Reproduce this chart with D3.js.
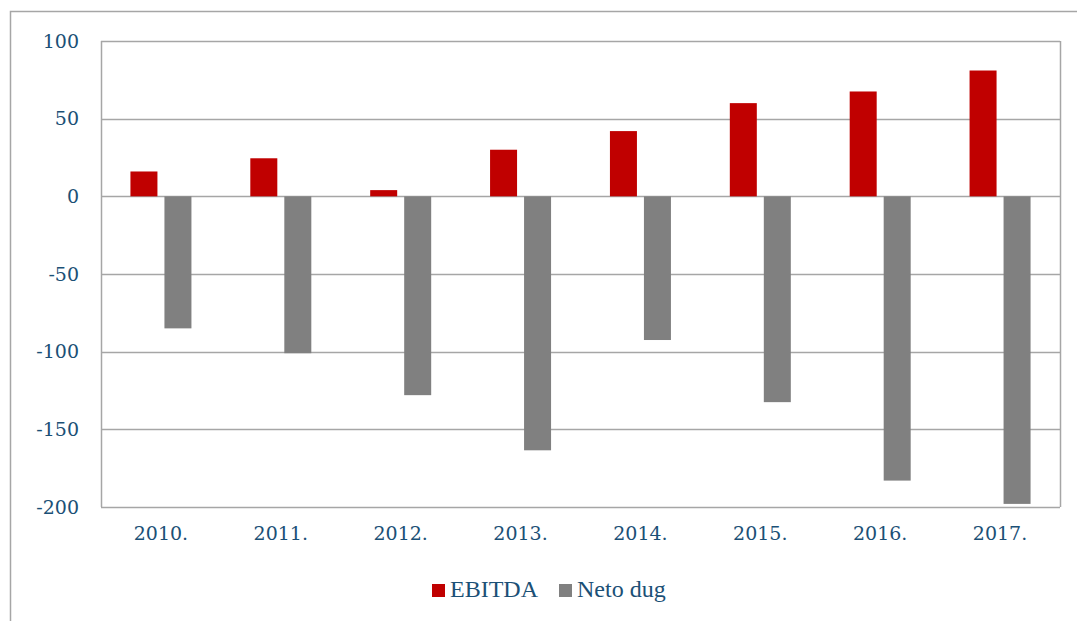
<!DOCTYPE html>
<html>
<head>
<meta charset="utf-8">
<script src="https://cdn.jsdelivr.net/npm/d3@7"></script>
<style>
  body { margin: 0; background: #fff; }
  svg { display: block; font-family: "DejaVu Serif", "Liberation Serif", serif; }
</style>
</head>
<body>
<svg id="chart"></svg>
<script>
var years = ["2010.", "2011.", "2012.", "2013.", "2014.", "2015.", "2016.", "2017."];
var ebitda = [16, 24.5, 4, 30, 42, 60, 67.5, 81];
var netoDug = [-85, -101, -128, -163.5, -92.5, -132.5, -183, -198];
var yTicks = [100, 50, 0, -50, -100, -150, -200];
var seriesNames = ["EBITDA", "Neto dug"];
var seriesColors = ["#c00000", "#808080"];

var width = 1077, height = 621;
var plot = { left: 101, right: 1060, top: 41, bottom: 507 };
var textColor = "#1b5076";
var gridColor = "#a6a6a6";

var svg = d3.select("#chart")
  .attr("width", width)
  .attr("height", height);

// outer chart frame (cut off at right and bottom)
svg.append("path")
  .attr("d", "M10.5," + height + "V11.5H" + width)
  .attr("fill", "none")
  .attr("stroke", gridColor)
  .attr("stroke-width", 1.5);

var x = d3.scaleBand()
  .domain(years)
  .range([plot.left, plot.right]);

var y = d3.scaleLinear()
  .domain([-200, 100])
  .range([plot.bottom, plot.top]);

var barW = 27, gap = 7;

// gridlines
svg.append("g")
  .selectAll("line")
  .data(yTicks)
  .enter()
  .append("line")
  .attr("x1", plot.left)
  .attr("x2", plot.right)
  .attr("y1", function(d) { return Math.round(y(d)) + 0.5; })
  .attr("y2", function(d) { return Math.round(y(d)) + 0.5; })
  .attr("stroke", gridColor)
  .attr("stroke-width", 1.5);

// plot border sides
svg.append("g")
  .selectAll("line")
  .data([plot.left, plot.right])
  .enter()
  .append("line")
  .attr("x1", function(d) { return d + 0.5; })
  .attr("x2", function(d) { return d + 0.5; })
  .attr("y1", plot.top)
  .attr("y2", plot.bottom)
  .attr("stroke", gridColor)
  .attr("stroke-width", 1.5);

var data = years.map(function(yr, i) {
  return { year: yr, values: [ebitda[i], netoDug[i]] };
});

var groups = svg.append("g")
  .selectAll("g")
  .data(data)
  .enter()
  .append("g");

groups.selectAll("rect")
  .data(function(d) { return d.values.map(function(v, k) { return { year: d.year, v: v, k: k }; }); })
  .enter()
  .append("rect")
  .attr("x", function(d) {
    var c = x(d.year) + x.bandwidth() / 2;
    return d.k === 0 ? c - gap / 2 - barW : c + gap / 2;
  })
  .attr("y", function(d) { return Math.min(y(d.v), y(0)); })
  .attr("width", barW)
  .attr("height", function(d) { return Math.abs(y(d.v) - y(0)); })
  .attr("fill", function(d) { return seriesColors[d.k]; });

// y axis labels (plain hyphen for negatives, as in the original)
var yAxis = d3.axisLeft(y)
  .tickValues(yTicks)
  .tickFormat(function(d) { return String(d); })
  .tickSize(0)
  .tickPadding(22);
svg.append("g")
  .attr("transform", "translate(" + plot.left + ",0)")
  .call(yAxis)
  .call(function(g) { g.select(".domain").remove(); })
  .selectAll("text")
  .attr("font-size", 19)
  .attr("font-family", "DejaVu Serif, serif")
  .attr("fill", textColor);

// x axis labels
var xAxis = d3.axisBottom(x).tickSize(0).tickPadding(20);
svg.append("g")
  .attr("transform", "translate(0," + plot.bottom + ")")
  .call(xAxis)
  .call(function(g) { g.select(".domain").remove(); })
  .selectAll("text")
  .attr("font-size", 19)
  .attr("font-family", "DejaVu Serif, serif")
  .attr("fill", textColor);

// legend
var legendX = [432, 559];
var legend = svg.append("g")
  .selectAll("g")
  .data(seriesNames)
  .enter()
  .append("g")
  .attr("transform", function(d, i) { return "translate(" + legendX[i] + ",584)"; });

legend.append("rect")
  .attr("width", 13)
  .attr("height", 13)
  .attr("fill", function(d, i) { return seriesColors[i]; });

legend.append("text")
  .attr("x", 18)
  .attr("y", 13)
  .attr("font-size", 24)
  .attr("font-family", "Liberation Serif, serif")
  .attr("fill", textColor)
  .text(function(d) { return d; });
</script>
</body>
</html>
